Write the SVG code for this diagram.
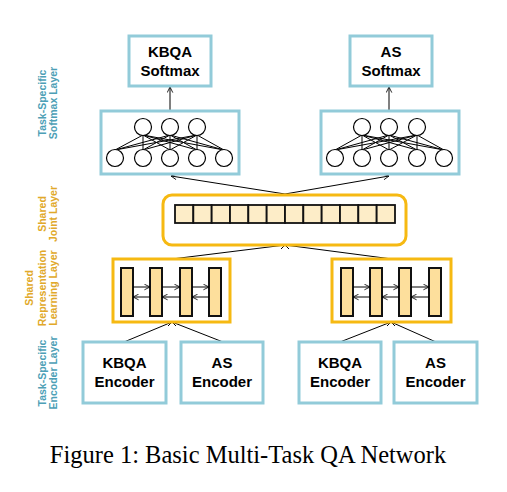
<svg xmlns="http://www.w3.org/2000/svg" width="507" height="492" viewBox="0 0 507 492">
<defs>
<marker id="arr" viewBox="0 0 10 10" refX="9" refY="5" markerWidth="7" markerHeight="7" orient="auto-start-reverse" markerUnits="userSpaceOnUse">
<path d="M1,1 L9,5 L1,9" fill="none" stroke="#000" stroke-width="1.2"/>
</marker>
<style>
.box{fill:#fff;stroke:#92cbd9;stroke-width:3}
.gold{fill:#fff;stroke:#f6b912;stroke-width:3}
.t{font-family:"Liberation Sans",Arial,sans-serif;font-weight:bold;font-size:15px;text-anchor:middle;fill:#000}
.lbl{font-family:"Liberation Sans",Arial,sans-serif;font-weight:bold;font-size:10.5px;text-anchor:middle}
.teal{fill:#4da0b6}
.yel{fill:#e1a92a}
.ln{stroke:#000;stroke-width:1;fill:none}
.nn{fill:#fff;stroke:#000;stroke-width:1.2}
.bar{fill:#fddf9c;stroke:#111;stroke-width:2}
.cell{fill:#fdedc8;stroke:#111;stroke-width:1.8}
.cap{font-family:"Liberation Serif","Times New Roman",serif;font-size:24.5px;text-anchor:middle;fill:#000}
</style>
</defs>
<rect width="507" height="492" fill="#fff"/>

<!-- layer labels -->
<g id="labels">
<text class="lbl teal" transform="translate(46,103) rotate(-90)">Task-Specific</text>
<text class="lbl teal" transform="translate(57,103) rotate(-90)">Softmax Layer</text>
<text class="lbl yel" transform="translate(46,214) rotate(-90)">Shared</text>
<text class="lbl yel" transform="translate(57,214) rotate(-90)">Joint Layer</text>
<text class="lbl yel" transform="translate(33,288) rotate(-90)">Shared</text>
<text class="lbl yel" transform="translate(46,288) rotate(-90)">Representation</text>
<text class="lbl yel" transform="translate(57,288) rotate(-90)">Learning Layer</text>
<text class="lbl teal" transform="translate(46,373) rotate(-90)">Task-Specific</text>
<text class="lbl teal" transform="translate(57,373) rotate(-90)">Encoder Layer</text>
</g>

<!-- connectors -->
<g id="connectors">
<line class="ln" x1="170" y1="111" x2="170" y2="87" marker-end="url(#arr)"/>
<line class="ln" x1="389" y1="111" x2="389" y2="87" marker-end="url(#arr)"/>
<line class="ln" x1="285" y1="194" x2="171" y2="176" marker-end="url(#arr)"/>
<line class="ln" x1="285" y1="194" x2="389" y2="176" marker-end="url(#arr)"/>
<line class="ln" x1="285" y1="245" x2="172" y2="259"/>
<line class="ln" x1="285" y1="245" x2="392" y2="259"/>
<path class="ln" d="M281,241 L289,249 M289,241 L281,249"/>
<line class="ln" x1="124" y1="342" x2="172" y2="322"/>
<line class="ln" x1="223" y1="342" x2="172" y2="322"/>
<path class="ln" d="M168,318 L176,326 M176,318 L168,326"/>
<line class="ln" x1="340" y1="342" x2="391" y2="322"/>
<line class="ln" x1="436" y1="342" x2="391" y2="322"/>
<path class="ln" d="M387,318 L395,326 M395,318 L387,326"/>
<text x="285" y="238" font-family="Liberation Serif,serif" font-style="italic" font-size="13" text-anchor="middle">x</text>
</g>

<!-- softmax nodes -->
<g id="kbqa-softmax">
<rect class="box" x="129" y="36" width="82" height="50"/>
<text class="t" x="170" y="57">KBQA</text>
<text class="t" x="170" y="76">Softmax</text>
</g>
<g id="as-softmax">
<rect class="box" x="350" y="36" width="82" height="50"/>
<text class="t" x="391" y="57">AS</text>
<text class="t" x="391" y="76">Softmax</text>
</g>

<!-- NN blocks -->
<g id="kbqa-nn">
<rect class="box" x="101" y="111" width="138" height="63"/>
<g class="ln">
<path d="M143,135 L115,150 M143,135 L143,150 M143,135 L170,150 M143,135 L197,150 M143,135 L224,150
M170,135 L115,150 M170,135 L143,150 M170,135 L170,150 M170,135 L197,150 M170,135 L224,150
M197,135 L115,150 M197,135 L143,150 M197,135 L170,150 M197,135 L197,150 M197,135 L224,150"/>
</g>
<circle class="nn" cx="143" cy="127" r="8.5"/>
<circle class="nn" cx="170" cy="127" r="8.5"/>
<circle class="nn" cx="197" cy="127" r="8.5"/>
<circle class="nn" cx="115" cy="158" r="8.5"/>
<circle class="nn" cx="143" cy="158" r="8.5"/>
<circle class="nn" cx="170" cy="158" r="8.5"/>
<circle class="nn" cx="197" cy="158" r="8.5"/>
<circle class="nn" cx="224" cy="158" r="8.5"/>
</g>
<g id="as-nn">
<rect class="box" x="321" y="111" width="138" height="63"/>
<g class="ln">
<path d="M362,135 L335,150 M362,135 L362,150 M362,135 L389,150 M362,135 L417,150 M362,135 L444,150
M389,135 L335,150 M389,135 L362,150 M389,135 L389,150 M389,135 L417,150 M389,135 L444,150
M417,135 L335,150 M417,135 L362,150 M417,135 L389,150 M417,135 L417,150 M417,135 L444,150"/>
</g>
<circle class="nn" cx="362" cy="127" r="8.5"/>
<circle class="nn" cx="389" cy="127" r="8.5"/>
<circle class="nn" cx="417" cy="127" r="8.5"/>
<circle class="nn" cx="335" cy="158" r="8.5"/>
<circle class="nn" cx="362" cy="158" r="8.5"/>
<circle class="nn" cx="389" cy="158" r="8.5"/>
<circle class="nn" cx="417" cy="158" r="8.5"/>
<circle class="nn" cx="444" cy="158" r="8.5"/>
</g>

<!-- joint layer -->
<g id="joint-layer">
<rect class="gold" x="163" y="195" width="243" height="50" rx="9"/>
<rect class="cell" x="175" y="205" width="18.33" height="18"/>
<rect class="cell" x="193.33" y="205" width="18.33" height="18"/>
<rect class="cell" x="211.67" y="205" width="18.33" height="18"/>
<rect class="cell" x="230" y="205" width="18.33" height="18"/>
<rect class="cell" x="248.33" y="205" width="18.33" height="18"/>
<rect class="cell" x="266.67" y="205" width="18.33" height="18"/>
<rect class="cell" x="285" y="205" width="18.33" height="18"/>
<rect class="cell" x="303.33" y="205" width="18.33" height="18"/>
<rect class="cell" x="321.67" y="205" width="18.33" height="18"/>
<rect class="cell" x="340" y="205" width="18.33" height="18"/>
<rect class="cell" x="358.33" y="205" width="18.33" height="18"/>
<rect class="cell" x="376.67" y="205" width="18.33" height="18"/>
</g>

<!-- representation layers -->
<g id="rep-left">
<rect class="gold" x="113" y="259" width="117" height="63"/>
<rect class="bar" x="121" y="268" width="12" height="48"/>
<rect class="bar" x="150" y="268" width="12" height="48"/>
<rect class="bar" x="180" y="268" width="12" height="48"/>
<rect class="bar" x="209" y="268" width="12" height="48"/>
<line class="ln" x1="133" y1="287" x2="150" y2="287" marker-end="url(#arr)"/>
<line class="ln" x1="162" y1="287" x2="180" y2="287" marker-end="url(#arr)"/>
<line class="ln" x1="192" y1="287" x2="209" y2="287" marker-end="url(#arr)"/>
<line class="ln" x1="150" y1="297" x2="133" y2="297" marker-end="url(#arr)"/>
<line class="ln" x1="180" y1="297" x2="162" y2="297" marker-end="url(#arr)"/>
<line class="ln" x1="209" y1="297" x2="192" y2="297" marker-end="url(#arr)"/>
</g>
<g id="rep-right">
<rect class="gold" x="332" y="259" width="119" height="63"/>
<rect class="bar" x="341" y="268" width="12" height="48"/>
<rect class="bar" x="370" y="268" width="12" height="48"/>
<rect class="bar" x="399" y="268" width="12" height="48"/>
<rect class="bar" x="429" y="268" width="12" height="48"/>
<line class="ln" x1="353" y1="287" x2="370" y2="287" marker-end="url(#arr)"/>
<line class="ln" x1="382" y1="287" x2="399" y2="287" marker-end="url(#arr)"/>
<line class="ln" x1="411" y1="287" x2="429" y2="287" marker-end="url(#arr)"/>
<line class="ln" x1="370" y1="297" x2="353" y2="297" marker-end="url(#arr)"/>
<line class="ln" x1="399" y1="297" x2="382" y2="297" marker-end="url(#arr)"/>
<line class="ln" x1="429" y1="297" x2="411" y2="297" marker-end="url(#arr)"/>
</g>

<!-- encoders -->
<g id="kbqa-encoder-1">
<rect class="box" x="83" y="342" width="83" height="61"/>
<text class="t" x="124.5" y="368">KBQA</text>
<text class="t" x="124.5" y="387">Encoder</text>
</g>
<g id="as-encoder-1">
<rect class="box" x="181" y="342" width="82" height="61"/>
<text class="t" x="222" y="368">AS</text>
<text class="t" x="222" y="387">Encoder</text>
</g>
<g id="kbqa-encoder-2">
<rect class="box" x="299" y="342" width="82" height="61"/>
<text class="t" x="340" y="368">KBQA</text>
<text class="t" x="340" y="387">Encoder</text>
</g>
<g id="as-encoder-2">
<rect class="box" x="394" y="342" width="83" height="61"/>
<text class="t" x="435.5" y="368">AS</text>
<text class="t" x="435.5" y="387">Encoder</text>
</g>

<text class="cap" x="248" y="463">Figure 1: Basic Multi-Task QA Network</text>
</svg>
